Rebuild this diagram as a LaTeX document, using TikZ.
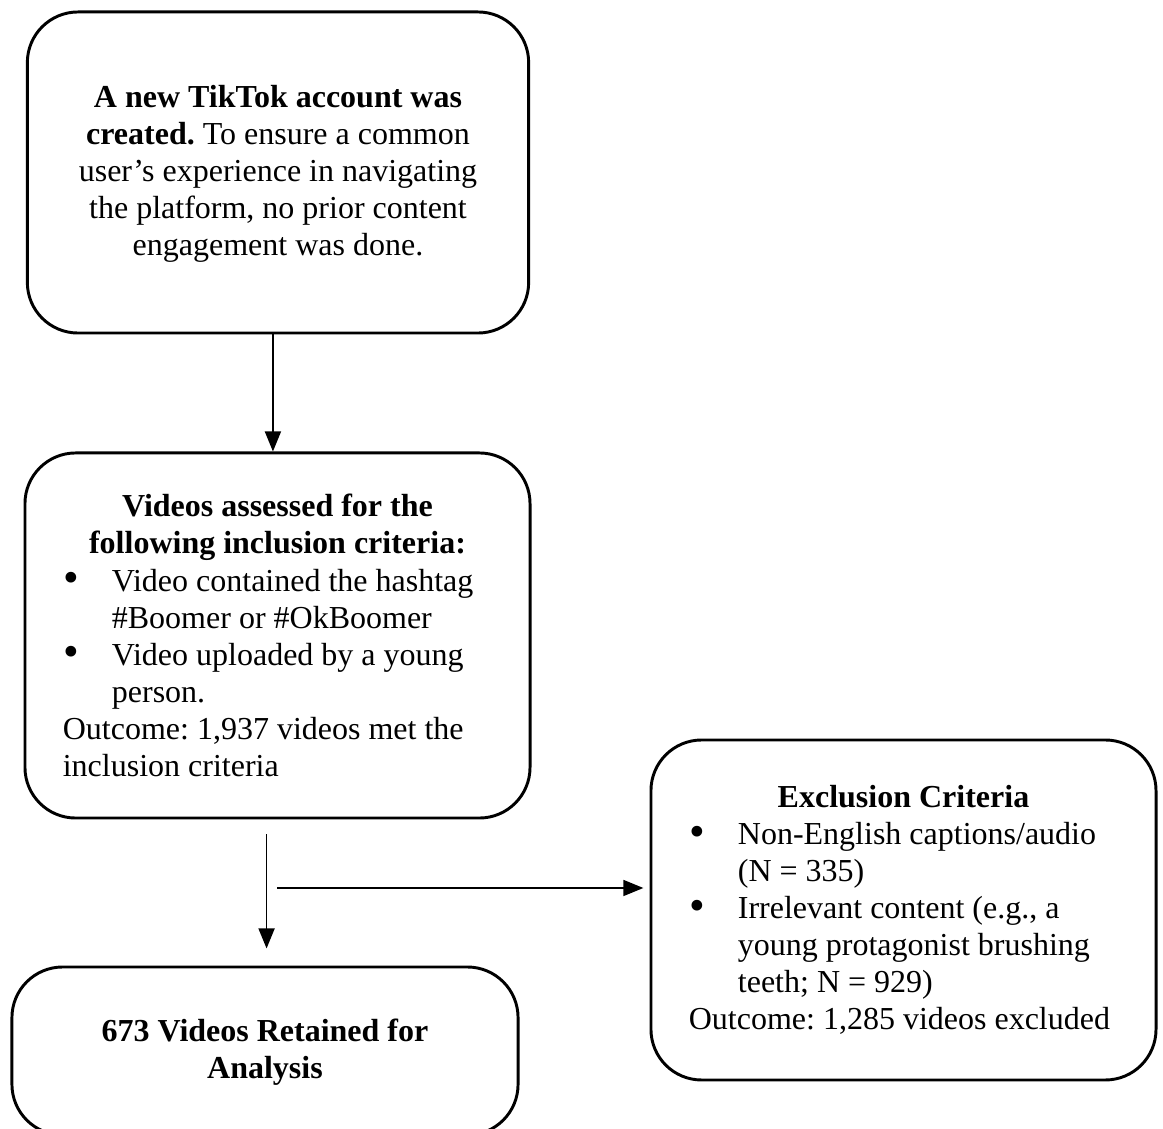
\documentclass[tikz,border=0pt]{standalone}
\usepackage{fontspec}
\usepackage{graphicx}
\setmainfont{Liberation Serif}
\usetikzlibrary{arrows.meta}

\newcommand{\headline}[1]{\makebox[161pt][c]{\bfseries #1}}
\newcommand{\bulitem}[1]{\makebox[18.4pt][l]{\hspace{0.3pt}\raisebox{-0.6pt}{\scalebox{1.4}{\textbullet}}}#1}
\newcommand{\bulcont}[1]{\hspace*{18.4pt}#1}

\tikzset{
  flowbox/.style={draw, line width=1.1pt, rounded corners=19pt, inner sep=0pt,
    font=\fontsize{12}{13.9}\selectfont\frenchspacing},
  flowarrow/.style={line width=0.6pt, -{Triangle[length=7.5pt,width=6pt]}}
}

\begin{document}
\begin{tikzpicture}[x=0.375pt,y=-0.375pt]
\clip (0,0) rectangle (1163,1129);

% boxes
\node[flowbox, minimum width=188pt, minimum height=120.4pt, align=center, text depth=1.5pt] (account) at (278,172.5)
  {\textbf{A new TikTok account was}\\
   \textbf{created.} To ensure a common\\
   user’s experience in navigating\\
   the platform, no prior content\\
   engagement was done.};

\node[flowbox, minimum width=189.4pt, minimum height=136.9pt, align=left] (inclusion) at (277.5,635.5)
  {\headline{Videos assessed for the}\\
   \headline{following inclusion criteria:}\\
   \bulitem{Video contained the hashtag}\\
   \bulcont{\#Boomer or \#OkBoomer}\\
   \bulitem{Video uploaded by a young}\\
   \bulcont{person.}\\
   Outcome: 1,937 videos met the\\
   inclusion criteria};

\node[flowbox, minimum width=189.8pt, minimum height=63pt, align=center, text depth=1.5pt] (retained) at (265,1051)
  {\textbf{673 Videos Retained for}\\
   \textbf{Analysis}};

\node[flowbox, minimum width=189.4pt, minimum height=127.5pt, align=left] (exclusion) at (903.5,910)
  {\headline{Exclusion Criteria}\\
   \bulitem{Non-English captions/audio}\\
   \bulcont{(N = 335)}\\
   \bulitem{Irrelevant content (e.g., a}\\
   \bulcont{young protagonist brushing}\\
   \bulcont{teeth; N = 929)}\\
   Outcome: 1,285 videos excluded};

% connectors
\coordinate (split) at (277,888);
\draw[flowarrow] ([xshift=-1.9pt]account.south) -- ([xshift=-1.9pt]account.south |- inclusion.north);
\draw[flowarrow, shorten <=5.6pt, shorten >=6.4pt] ([xshift=-4.1pt]inclusion.south) -- ([xshift=-4.1pt]inclusion.south |- retained.north);
\draw[flowarrow, shorten >=2.3pt] (split) -- (split -| exclusion.west);
\end{tikzpicture}
\end{document}
